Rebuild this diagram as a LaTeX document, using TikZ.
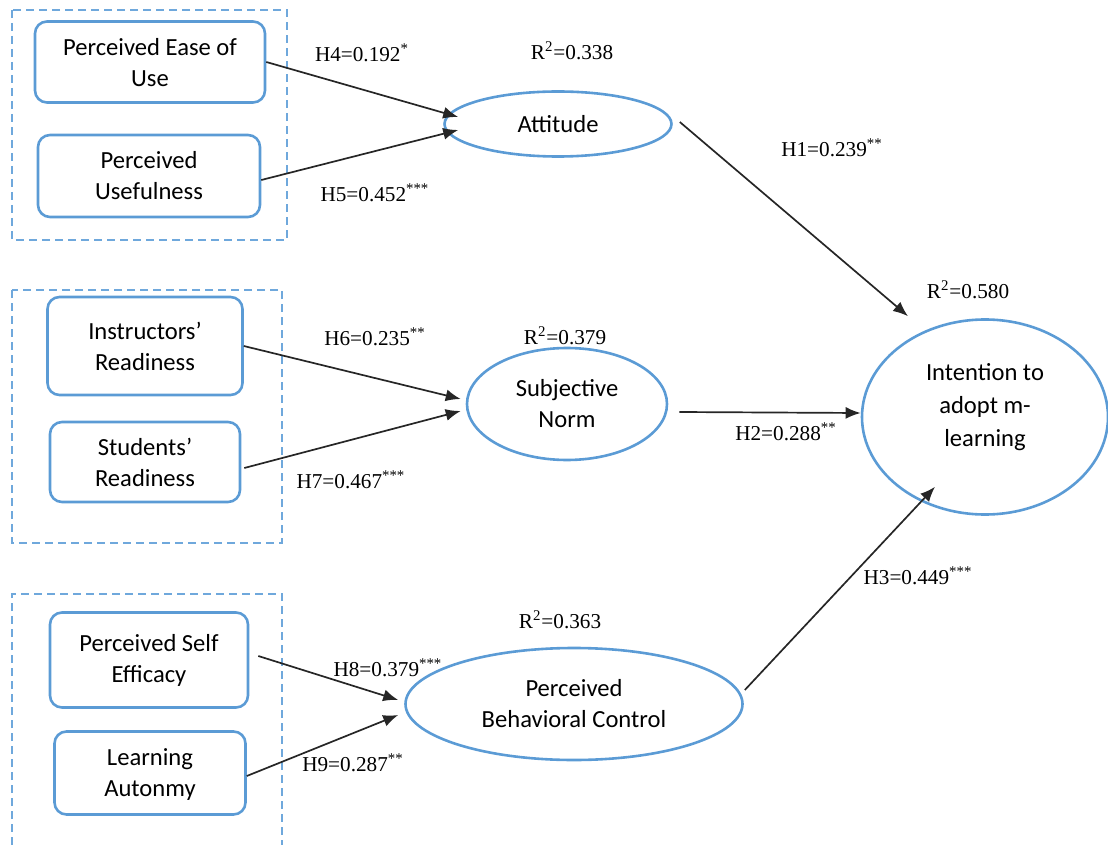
\documentclass[tikz,border=0pt]{standalone}
\usepackage{fontspec}
\setmainfont{Liberation Serif}
\newfontfamily\bodyfont{Carlito}
\usepackage{tikz}
\usetikzlibrary{arrows.meta, positioning,
shapes.geometric, % for the ellipses
calc
}
\definecolor{boxblue}{RGB}{91,155,213}
\definecolor{grpblue}{RGB}{111,168,220}
\tikzset{%
  construct/.style={draw=boxblue, line width=1.3pt, rounded corners=6pt, align=center,
    inner sep=1pt, font={\bodyfont\fontsize{12.3}{15.5}\selectfont}}, % observed variables
  latent/.style={draw=boxblue, ellipse, line width=1.3pt, align=center,
    inner sep=0pt, font={\bodyfont\fontsize{12.3}{15.5}\selectfont}},
  grp/.style={draw=grpblue, line width=0.6pt, dash pattern=on 4pt off 2.5pt},
  lbl/.style={inner sep=1pt, font=\fontsize{10.6}{12}\selectfont},
  arr/.style={draw=black!85, line width=0.85pt, -{Latex[length=7.5pt, width=6pt]}}
}

\begin{document}
\begin{tikzpicture}[x=0.5pt, y=-0.5pt]
\useasboundingbox (0,0) rectangle (1108,845);

\draw[grp] (12,10) rectangle (287,240);
\draw[grp] (12,290) rectangle (282,543);
\draw[grp] (12,845) |- (282,594) -- (282,845);

\node[construct, minimum width=115pt, minimum height=40.5pt, text depth=0pt] (peou) at (150,62) {Perceived Ease of\\Use};
\node[construct, minimum width=111pt, minimum height=41pt] (pu) at (149,176) {Perceived\\Usefulness};
\node[construct, minimum width=97.5pt, minimum height=49pt] (inst) at (145,346) {Instructors’\\Readiness};
\node[construct, minimum width=95pt, minimum height=40pt, text depth=0pt] (stud) at (145,462) {Students’\\Readiness};
\node[construct, minimum width=99pt, minimum height=47.5pt] (pse) at (149,660) {Perceived Self\\Efficacy};
\node[construct, minimum width=95.5pt, minimum height=41.5pt, text depth=0pt] (la) at (150,773) {Learning\\Autonmy};

\node[latent, minimum width=113.5pt, minimum height=32.5pt] (att) at (558,124) {Attitude};
\node[latent, minimum width=100pt, minimum height=56pt] (sn) at (567,404) {Subjective\\Norm};
\node[latent, minimum width=168.5pt, minimum height=56pt] (pbc) at (574,704) {Perceived\\Behavioral Control};
\node[latent, minimum width=123pt, minimum height=97.5pt, text depth=12pt,
  font={\bodyfont\fontsize{12.3}{16.5}\selectfont}] (int) at (985,417) {Intention to\\adopt m-\\learning};

\node[lbl, above=14pt of att, xshift=7pt] (r2att) {R\textsuperscript{2}=0.338};
\node[lbl, above=0pt of sn, xshift=-1pt] (r2sn) {R\textsuperscript{2}=0.379};
\node[lbl, above=8pt of pbc, xshift=-7pt] (r2pbc) {R\textsuperscript{2}=0.363};
\node[lbl, above=8.5pt of int, xshift=-8.5pt] (r2int) {R\textsuperscript{2}=0.580};

\draw[arr] (peou.east) -- ($(att.west)+(15,-7)$);
\draw[arr] ($(pu.east)+(0,4)$) -- ($(att.west)+(15,6)$);
\draw[arr] ($(att.east)+(7,-2)$) -- ($(int.north)+(-77,-2)$);
\draw[arr] (inst.east) -- ($(sn.west)+(-5,-5)$);
\draw[arr] ($(stud.east)+(3,6)$) -- ($(sn.west)+(-5,7)$);
\draw[arr] ($(sn.east)+(11,8)$) -- ($(int.west)+(0,-4)$);
\draw[arr] ($(pse.east)+(9,-4)$) -- ($(pbc.west)+(-6,-4)$);
\draw[arr] ($(la.east)+(0,3)$) -- ($(pbc.west)+(-6,11)$);
\draw[arr] ($(pbc.east)+(1,-14)$) -- ($(int.south)+(-50,-29)$);

\node[lbl] (h4) at (362,53) {H4=0.192\textsuperscript{*}};
\node[lbl] (h5) at (375,193) {H5=0.452\textsuperscript{***}};
\node[lbl] (h1) at (832,148) {H1=0.239\textsuperscript{**}};
\node[lbl] (h6) at (375,337) {H6=0.235\textsuperscript{**}};
\node[lbl] (h7) at (351,480) {H7=0.467\textsuperscript{***}};
\node[lbl] (h2) at (786,432) {H2=0.288\textsuperscript{**}};
\node[lbl] (h3) at (918,576) {H3=0.449\textsuperscript{***}};
\node[lbl] (h8) at (388,668) {H8=0.379\textsuperscript{***}};
\node[lbl] (h9) at (353,763) {H9=0.287\textsuperscript{**}};

\end{tikzpicture}
\end{document}
